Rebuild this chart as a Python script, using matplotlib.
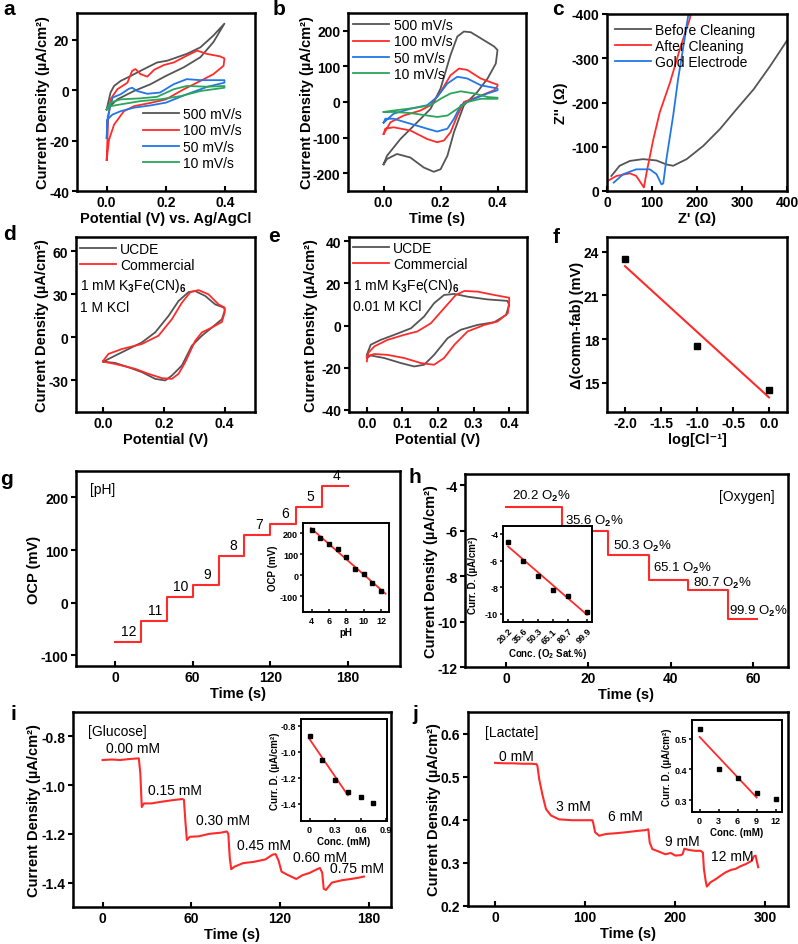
import numpy as np
import matplotlib.pyplot as plt

plt.rcParams['font.family'] = ['Liberation Sans', 'DejaVu Sans']
plt.rcParams['font.weight'] = 'bold'
plt.rcParams['axes.labelweight'] = 'bold'
plt.rcParams['axes.unicode_minus'] = False
plt.rcParams['mathtext.fontset'] = 'custom'
plt.rcParams['mathtext.rm'] = 'Liberation Sans'
plt.rcParams['mathtext.bf'] = 'Liberation Sans:bold'
plt.rcParams['mathtext.it'] = 'Liberation Sans:italic'
plt.rcParams['axes.linewidth'] = 1.8

GRAY = '#555555'
RED = '#ff2b2b'
BLUE = '#2277e6'
GREEN = '#2ba55a'

# ── a: CV at different scan rates ─────────────────────────
a_rates = ['500 mV/s', '100 mV/s', '50 mV/s', '10 mV/s']
a_x_500 = [0.0, 0.013, 0.025, 0.047, 0.08, 0.114, 0.17, 0.204, 0.27, 0.316, 0.36, 0.397,
           0.36, 0.316, 0.26, 0.2, 0.148, 0.092, 0.036, 0.0]
a_y_500 = [-7.7, -1, 1.6, 3.6, 5.5, 7.6, 10.9, 11.6, 14.3, 16.9, 21.6, 26.3,
           19, 13, 9, 5.6, 2.3, -0.4, -3.7, -7.7]
a_x_100 = [0.0, 0.005, 0.013, 0.036, 0.07, 0.086, 0.097, 0.114, 0.137, 0.16, 0.193, 0.226, 0.27,
           0.305, 0.338, 0.383, 0.397, 0.394, 0.36, 0.316, 0.26, 0.2, 0.148, 0.092, 0.058, 0.025,
           0.008, 0.0]
a_y_100 = [-27.7, -11.7, -3.7, 0.3, 2.9, 7.6, 8.3, 6.3, 5.3, 8, 9.9, 10.9, 13.6,
           15.6, 14.3, 13.3, 12.5, 9.6, 6.3, 3.6, 0.3, -3.7, -5.1, -6.4, -8.4, -13.7,
           -19.7, -27.7]
a_x_50 = [0.0, 0.004, 0.02, 0.047, 0.075, 0.086, 0.103, 0.137, 0.18, 0.226, 0.27, 0.316, 0.397,
          0.397, 0.34, 0.27, 0.2, 0.148, 0.092, 0.047, 0.02, 0.002, 0.0]
a_y_50 = [-19, -10.4, -3, -1.7, 0.5, 0.9, -0.4, -1.5, -1, 2.3, 4.3, 3.9, 3.9,
          2.9, 1.3, -1.7, -5, -6.1, -7, -8.4, -9.7, -11.7, -19]
a_x_10 = [0.0, 0.013, 0.047, 0.114, 0.17, 0.226, 0.27, 0.34, 0.397,
          0.397, 0.316, 0.25, 0.18, 0.114, 0.047, 0.013, 0.0]
a_y_10 = [-7.7, -5, -3.7, -3.3, -2.7, 0.3, 1.6, 1.3, 1.6,
          0.9, -0.4, -2.4, -3.7, -4.4, -5.7, -6.4, -7.7]

# ── b ─────────────────────────────────────────────────────
b_x_500 = [0, 0.012, 0.059, 0.118, 0.165, 0.2, 0.235, 0.259, 0.282, 0.306, 0.341, 0.388, 0.4,
           0.394, 0.365, 0.329, 0.282, 0.247, 0.224, 0.2, 0.176, 0.141, 0.094, 0.047, 0.012, 0]
b_y_500 = [-175, -151, -104, -57, -19, 38, 132, 184, 198, 196, 179, 156, 146,
           108, 66, 28, -9, -85, -151, -189, -196, -184, -156, -146, -160, -175]
b_x_100 = [0, 0.024, 0.071, 0.129, 0.165, 0.2, 0.235, 0.265, 0.294, 0.341, 0.388, 0.4,
           0.4, 0.388, 0.329, 0.282, 0.259, 0.235, 0.212, 0.188, 0.153, 0.094, 0.035, 0.006, 0]
b_y_100 = [-90, -57, -38, -24, -9, 28, 75, 94, 90, 66, 52, 49,
           45, 33, 14, 0, -38, -85, -108, -113, -104, -80, -71, -75, -90]
b_x_50 = [0, 0.035, 0.094, 0.153, 0.188, 0.224, 0.259, 0.294, 0.341, 0.4,
          0.4, 0.365, 0.318, 0.271, 0.247, 0.224, 0.188, 0.153, 0.094, 0.035, 0.006, 0]
b_y_50 = [-58, -33, -19, -9, 14, 52, 71, 66, 47, 38,
          33, 24, 9, -9, -47, -75, -83, -75, -61, -47, -47, -58]
b_x_10 = [0, 0.035, 0.106, 0.165, 0.2, 0.235, 0.271, 0.318, 0.365, 0.4,
          0.4, 0.341, 0.294, 0.259, 0.224, 0.188, 0.153, 0.094, 0.035, 0]
b_y_10 = [-28, -24, -17, -9, 9, 24, 30, 24, 14, 12,
          9, 9, 0, -19, -38, -42, -38, -31, -28, -28]

# ── c: Nyquist ────────────────────────────────────────────
c_names = ['Before Cleaning', 'After Cleaning', 'Gold Electrode']
c_x_before = [9.7, 28, 51, 80, 110, 132, 147, 177, 214, 251, 288, 326, 363, 400]
c_y_before = [-34, -57, -68, -72, -69, -60, -57, -72, -102, -140, -185, -230, -283, -340]
c_x_after = [2, 21, 51, 65, 80, 82, 88, 103, 117, 140, 162, 184, 190]
c_y_after = [-23, -34, -40, -34, -11, -8, -42, -117, -177, -245, -321, -389, -420]
c_x_gold = [15, 36, 65, 95, 110, 121, 125, 132, 147, 158, 170, 181, 185]
c_y_gold = [-19, -38, -49, -49, -38, -15, -17, -72, -170, -253, -328, -400, -425]

# ── d / e: UCDE vs commercial ─────────────────────────────
d_x_ucde = [0, 0.039, 0.083, 0.127, 0.171, 0.215, 0.248, 0.281, 0.303, 0.336, 0.369, 0.397, 0.4,
            0.4, 0.391, 0.358, 0.325, 0.292, 0.259, 0.226, 0.204, 0.171, 0.127, 0.083, 0.039, 0]
d_y_ucde = [-16.9, -12.7, -8.1, -3.5, 3.5, 15, 25.4, 31.6, 32.3, 28.9, 23, 20.8, 19.6,
            18.5, 12.7, 6.9, 1.2, -5.8, -19.6, -26.6, -30, -28.9, -24.2, -20.8, -17.8, -16.9]
d_x_comm = [0, 0.017, 0.061, 0.127, 0.182, 0.226, 0.259, 0.287, 0.314, 0.347, 0.38, 0.4,
            0.4, 0.391, 0.358, 0.325, 0.303, 0.27, 0.248, 0.226, 0.193, 0.149, 0.105, 0.039, 0]
d_y_comm = [-16.2, -11.5, -8.1, -4.6, 1.2, 12.7, 24.2, 31.6, 33, 30, 23, 20.8,
            17.3, 10.8, 6.9, 3.5, -2.3, -17.3, -25.4, -28.9, -28.4, -25.4, -21.9, -18.5, -16.9]
e_x_ucde = [0, 0.011, 0.039, 0.077, 0.124, 0.161, 0.189, 0.217, 0.246, 0.283, 0.339, 0.395,
            0.4, 0.391, 0.358, 0.311, 0.264, 0.227, 0.189, 0.161, 0.133, 0.096, 0.049, 0.011, 0]
e_y_ucde = [-13.9, -9.1, -6.8, -4.4, -1.3, 4.3, 10.6, 14.5, 15, 13.7, 12.4, 11.7,
            9.8, 5, 1.6, 0.3, -2, -6, -13.9, -18.6, -19.4, -17.8, -15.4, -14.2, -15.4]
e_x_comm = [0, 0.004, 0.021, 0.058, 0.105, 0.142, 0.18, 0.217, 0.25, 0.274, 0.311, 0.358, 0.4,
            0.4, 0.396, 0.367, 0.33, 0.283, 0.246, 0.217, 0.189, 0.152, 0.105, 0.058, 0.021, 0]
e_y_comm = [-17, -13, -9.9, -6.8, -4.4, -2.8, 1.1, 8.2, 14.5, 16.4, 16.1, 14.5, 13.2,
            11.3, 5.8, 1.9, 0.3, -2.8, -9.1, -15.4, -18.6, -17.8, -15.4, -13.9, -13.5, -14.6]

# ── f ─────────────────────────────────────────────────────
f_logcl = [-2.0, -1.0, 0.0]
f_delta = [23.5, 17.5, 14.5]

# ── g: pH steps ───────────────────────────────────────────
g_time = [0, 20, 40, 60, 80, 100, 120, 140, 160, 180]
g_ocp = [-75, -34, 10, 34, 89, 129, 150, 181, 221]
g_step_ph = ['12', '11', '10', '9', '8', '7', '6', '5', '4']
g_ph = [4, 5, 6, 7, 8, 9, 10, 11, 12]
g_ph_ocp = [215, 180, 148, 127, 88, 32, 8, -35, -76]

# ── h: oxygen steps ───────────────────────────────────────
h_time = [0, 13.6, 24.7, 34.6, 44.3, 54.0, 61.0]
h_current = [-4.96, -5.99, -7.06, -8.15, -8.63, -9.88]
h_o2 = [20.2, 35.6, 50.3, 65.1, 80.7, 99.9]
h_o2_current = [-4.58, -6.0, -7.15, -8.2, -8.65, -9.85]

# ── i: glucose ────────────────────────────────────────────
i_time = [0, 6, 12, 18, 24.5, 25.5, 26.5, 28, 33, 40, 47, 54, 55, 56, 57, 59, 65, 72, 80, 84,
          85, 86, 87, 89, 95, 102, 110, 115, 117, 119, 121, 125, 131, 135, 140, 145, 147, 148.5,
          149.5, 151, 155, 162, 168, 173, 176.7]
i_current = [-0.897, -0.895, -0.897, -0.893, -0.89, -0.95, -1.09, -1.075, -1.075, -1.068,
             -1.062, -1.057, -1.06, -1.15, -1.225, -1.212, -1.21, -1.2, -1.195, -1.19,
             -1.2, -1.30, -1.345, -1.335, -1.32, -1.315, -1.305, -1.285, -1.283, -1.31,
             -1.355, -1.368, -1.385, -1.37, -1.36, -1.345, -1.34, -1.36,
             -1.425, -1.43, -1.4, -1.39, -1.385, -1.38, -1.375]
i_conc_labels = ['0.00 mM', '0.15 mM', '0.30 mM', '0.45 mM', '0.60 mM', '0.75 mM']
i_conc = [0, 0.15, 0.30, 0.45, 0.60, 0.75]
i_conc_current = [-0.883, -1.065, -1.215, -1.31, -1.35, -1.39]

# ── j: lactate ────────────────────────────────────────────
j_time = [0, 10, 20, 30, 40, 46, 47, 49, 52.8, 56.5, 62, 71, 85, 100, 108, 109, 111, 115.5,
          123, 135, 145, 157, 167, 170, 171.6, 174.5, 182, 189, 195, 200, 206, 208, 210, 215,
          222, 228, 230.6, 231.7, 233.6, 235, 239, 244.6, 250, 255.7, 262, 266.8, 272, 277.9,
          285, 287, 289, 291.9]
j_current = [0.532, 0.531, 0.531, 0.530, 0.530, 0.529, 0.525, 0.494, 0.456, 0.425, 0.41, 0.401,
             0.399, 0.399, 0.399, 0.392, 0.371, 0.363, 0.367, 0.369, 0.371, 0.374, 0.376, 0.378,
             0.347, 0.332, 0.326, 0.32, 0.323, 0.317, 0.318, 0.32, 0.333, 0.33, 0.328, 0.328,
             0.324, 0.286, 0.259, 0.245, 0.255, 0.262, 0.27, 0.278, 0.284, 0.286, 0.292, 0.297,
             0.305, 0.315, 0.317, 0.29]
j_conc_labels = ['0 mM', '3 mM', '6 mM', '9 mM', '12 mM']
j_conc = [0, 3, 6, 9, 12]
j_conc_current = [0.532, 0.4, 0.373, 0.323, 0.303]

CD = 'Current Density (µA/cm²)'

W, H = 798, 945
fig = plt.figure(figsize=(W / 100, H / 100), dpi=100)


def box(x0, y0, x1, y1):
    return fig.add_axes([x0 / W, 1 - y1 / H, (x1 - x0) / W, (y1 - y0) / H])


def style(ax, xlim, ylim, xticks, yticks, size=10, tl=3.5, tw=1.5, ypad=2):
    ax.set_xlim(*xlim)
    ax.set_ylim(*ylim)
    ax.set_xticks(xticks)
    ax.set_yticks(yticks)
    ax.tick_params(axis='x', direction='in', length=tl, width=tw, labelsize=size, pad=3)
    ax.tick_params(axis='y', direction='out', length=tl, width=tw, labelsize=size, pad=ypad)


def labels(ax, xlabel, ylabel, ylx, size=10.5):
    ax.set_xlabel(xlabel, fontsize=size, labelpad=1)
    ax.set_ylabel(ylabel, fontsize=size)
    ax.yaxis.set_label_coords(ylx, 0.5)


def inset_labels(ins, xlabel, ylabel, ylx):
    for sp in ins.spines.values():
        sp.set_linewidth(1.4)
    ins.set_xlabel(xlabel, fontsize=7, labelpad=1)
    ins.set_ylabel(ylabel, fontsize=7)
    ins.yaxis.set_label_coords(ylx, 0.5)


def legend(ax, anchor):
    ax.legend(frameon=False, loc='upper left', bbox_to_anchor=anchor, borderaxespad=0,
              borderpad=0, handlelength=2.6, handletextpad=0.3, labelspacing=0.15,
              prop={'size': 10, 'weight': 'normal'})


def letter(x, y, s):
    fig.text(x / W, 1 - y / H, s, fontsize=15, fontweight='bold', va='baseline')


NORM = dict(fontweight='normal', fontsize=10)
INSET = dict(size=6.5, tl=2.5, tw=1.1, ypad=1)

# ── panel a ───────────────────────────────────────────────
ax = box(77, 14, 255, 192)
for xs, ys, c, lab in zip([a_x_500, a_x_100, a_x_50, a_x_10], [a_y_500, a_y_100, a_y_50, a_y_10],
                          [GRAY, RED, BLUE, GREEN], a_rates):
    ax.plot(xs, ys, color=c, lw=1.3, label=lab)
style(ax, (-0.1, 0.5), (-40, 30.5), [0, 0.2, 0.4], [-40, -20, 0, 20])
labels(ax, 'Potential (V) vs. Ag/AgCl', CD, -0.152)
legend(ax, (0.37, 0.47))
letter(3, 15, 'a')

# ── panel b ───────────────────────────────────────────────
ax = box(348, 14, 526, 192)
for xs, ys, c, lab in zip([b_x_500, b_x_100, b_x_50, b_x_10], [b_y_500, b_y_100, b_y_50, b_y_10],
                          [GRAY, RED, BLUE, GREEN], a_rates):
    ax.plot(xs, ys, color=c, lw=1.3, label=lab)
style(ax, (-0.125, 0.5), (-250, 250), [0, 0.2, 0.4], [-200, -100, 0, 100, 200])
labels(ax, 'Time (s)', CD, -0.19)
legend(ax, (0.03, 0.97))
letter(273, 15, 'b')

# ── panel c ───────────────────────────────────────────────
ax = box(607, 15, 787, 192)
for xs, ys, c, lab in zip([c_x_before, c_x_after, c_x_gold], [c_y_before, c_y_after, c_y_gold],
                          [GRAY, RED, BLUE], c_names):
    ax.plot(xs, ys, color=c, lw=1.3, label=lab)
style(ax, (0, 400), (0, -400), [0, 100, 200, 300, 400], [0, -100, -200, -300, -400])
labels(ax, "Z' (Ω)", "Z'' (Ω)", -0.217)
legend(ax, (0.045, 0.95))
letter(552, 15, 'c')

# ── panel d ───────────────────────────────────────────────
ax = box(76, 238, 255, 413)
ax.plot(d_x_ucde, d_y_ucde, color=GRAY, lw=1.3, label='UCDE')
ax.plot(d_x_comm, d_y_comm, color=RED, lw=1.3, label='Commercial')
style(ax, (-0.09, 0.5), (-52, 70), [0, 0.2, 0.4], [-30, 0, 30, 60])
labels(ax, 'Potential (V)', CD, -0.152)
legend(ax, (0.02, 0.97))
ax.text(0.025, 0.726, '1 mM K$_3$Fe(CN)$_6$', transform=ax.transAxes, va='center', **NORM)
ax.text(0.025, 0.60, '1 M KCl', transform=ax.transAxes, va='center', **NORM)
letter(3, 240, 'd')

# ── panel e ───────────────────────────────────────────────
ax = box(349, 238, 527, 413)
ax.plot(e_x_ucde, e_y_ucde, color=GRAY, lw=1.3, label='UCDE')
ax.plot(e_x_comm, e_y_comm, color=RED, lw=1.3, label='Commercial')
style(ax, (-0.05, 0.45), (-41, 42), [0, 0.1, 0.2, 0.3, 0.4], [-40, -20, 0, 20, 40])
labels(ax, 'Potential (V)', CD, -0.174)
legend(ax, (0.02, 0.98))
ax.text(0.025, 0.726, '1 mM K$_3$Fe(CN)$_6$', transform=ax.transAxes, va='center', **NORM)
ax.text(0.025, 0.606, '0.01 M KCl', transform=ax.transAxes, va='center', **NORM)
letter(268, 242, 'e')

# ── panel f ───────────────────────────────────────────────
ax = box(607, 238, 787, 413)
k, b0 = np.polyfit(f_logcl, f_delta, 1)
fx = np.array([min(f_logcl), max(f_logcl)])
ax.plot(fx, k * fx + b0, color=RED, lw=1.5)
ax.plot(f_logcl, f_delta, 's', color='black', ms=5)
style(ax, (-2.25, 0.25), (13, 25), [-2.0, -1.5, -1.0, -0.5, 0.0], [15, 18, 21, 24])
labels(ax, 'log[Cl⁻¹]', 'Δ(comm-fab) (mV)', -0.125)
letter(553, 243, 'f')

# ── panel g ───────────────────────────────────────────────
ax = box(76, 472, 400, 667)
ax.step(g_time, g_ocp + [g_ocp[-1]], where='post', color=RED, lw=1.5)
for t0, v, s in zip(g_time[:-1], g_ocp, g_step_ph):
    ax.annotate(s, (t0 + 10, v), xytext=(1, 3), textcoords='offset points',
                ha='center', va='bottom', **NORM)
ax.text(0.043, 0.91, '[pH]', transform=ax.transAxes, va='center', **NORM)
style(ax, (-30, 220), (-120, 250), [0, 60, 120, 180], [-100, 0, 100, 200])
labels(ax, 'Time (s)', 'OCP (mV)', -0.108)
letter(0, 485, 'g')

ins = box(303, 524, 389, 613)
k, b0 = np.polyfit(g_ph, g_ph_ocp, 1)
gx = np.array([3.9, 12.5])
ins.plot(gx, k * gx + b0, color=RED, lw=1.3)
ins.plot(g_ph, g_ph_ocp, 's', color='black', ms=3.2)
style(ins, (3, 12.9), (-175, 250), [4, 6, 8, 10, 12], [-100, 0, 100, 200], **INSET)
inset_labels(ins, 'pH', 'OCP (mV)', -0.29)

# ── panel h ───────────────────────────────────────────────
ax = box(465, 475, 788, 668)
ax.step(h_time, h_current + [h_current[-1]], where='post', color=RED, lw=1.5)
h_text_t = [1.4, 14.2, 25.9, 35.6, 45.3, 54.2]
h_text_y = [-4.44, -5.54, -6.65, -7.6, -8.26, -9.49]
for t, v, c in zip(h_text_t, h_text_y, h_o2):
    ax.text(t, v, f'{c} O$_2$%', ha='left', va='center', fontweight='normal', fontsize=9.5)
ax.text(0.96, 0.886, '[Oxygen]', transform=ax.transAxes, va='center', ha='right', **NORM)
style(ax, (-10, 68.5), (-12, -3.5), [0, 20, 40, 60], [-12, -10, -8, -6, -4])
labels(ax, 'Time (s)', CD, -0.084)
letter(408, 483, 'h')

ins = box(503, 527, 592, 623)
k, b0 = np.polyfit(h_o2, h_o2_current, 1)
hx = np.array([h_o2[0], h_o2[-1]])
ins.plot(hx, k * hx + b0, color=RED, lw=1.3)
ins.plot(h_o2, h_o2_current, 's', color='black', ms=3.2)
style(ins, (15, 105), (-10.6, -3.4), h_o2, [-10, -8, -6, -4], **INSET)
ins.set_xticklabels([str(c) for c in h_o2], rotation=45, ha='right', rotation_mode='anchor')
inset_labels(ins, 'Conc. (O$_\\mathbf{2}$ Sat.%)', 'Curr. D. (µA/cm²)', -0.28)

# ── panel i ───────────────────────────────────────────────
ax = box(73, 713, 391, 908)
ax.plot(i_time, i_current, color=RED, lw=1.5)
i_text_t = [2, 31, 63, 91, 129, 154]
i_text_y = [-0.846, -1.018, -1.142, -1.245, -1.294, -1.338]
for t, v, s in zip(i_text_t, i_text_y, i_conc_labels):
    ax.text(t, v, s, ha='left', va='center', **NORM)
ax.text(0.048, 0.90, '[Glucose]', transform=ax.transAxes, va='center', **NORM)
style(ax, (-20, 195), (-1.5, -0.7), [0, 60, 120, 180], [-1.4, -1.2, -1.0, -0.8])
labels(ax, 'Time (s)', CD, -0.1)
letter(10, 720, 'i')

ins = box(301, 720, 387, 822)
k, b0 = np.polyfit(i_conc[:4], i_conc_current[:4], 1)
ix = np.array([i_conc[0], i_conc[3]])
ins.plot(ix, k * ix + b0, color=RED, lw=1.3)
ins.plot(i_conc, i_conc_current, 's', color='black', ms=3.2)
style(ins, (-0.1, 0.91), (-1.53, -0.75), [0, 0.3, 0.6, 0.9], [-1.4, -1.2, -1.0, -0.8], **INSET)
ins.set_xticklabels(['0', '0.3', '0.6', '0.9'])
inset_labels(ins, 'Conc. (mM)', 'Curr. D. (µA/cm²)', -0.245)

# ── panel j ───────────────────────────────────────────────
ax = box(468, 713, 788, 907)
ax.plot(j_time, j_current, color=RED, lw=1.5)
j_text_t = [4.8, 67.5, 125.5, 188, 240]
j_text_y = [0.547, 0.432, 0.409, 0.351, 0.317]
for t, v, s in zip(j_text_t, j_text_y, j_conc_labels):
    ax.text(t, v, s, ha='left', va='center', **NORM)
ax.text(0.053, 0.897, '[Lactate]', transform=ax.transAxes, va='center', **NORM)
style(ax, (-30, 325), (0.2, 0.65), [0, 100, 200, 300], [0.2, 0.3, 0.4, 0.5, 0.6])
labels(ax, 'Time (s)', CD, -0.084)
letter(412, 720, 'j')

ins = box(692, 721, 782, 813)
k, b0 = np.polyfit(j_conc[:4], j_conc_current[:4], 1)
jx = np.array([j_conc[0], j_conc[3]])
ins.plot(jx, k * jx + b0, color=RED, lw=1.3)
ins.plot(j_conc, j_conc_current, 's', color='black', ms=3.2)
style(ins, (-1.2, 13), (0.262, 0.56), j_conc, [0.3, 0.4, 0.5], **INSET)
inset_labels(ins, 'Conc. (mM)', 'Curr. D. (µA/cm²)', -0.22)

fig.savefig('out.png', dpi=100)
